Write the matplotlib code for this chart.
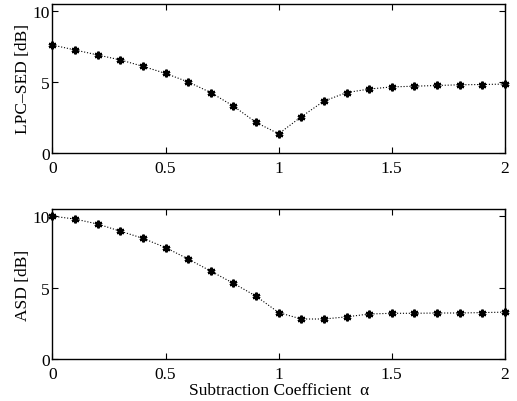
import matplotlib
matplotlib.use("Agg")
import matplotlib.pyplot as plt

# subtraction coefficient sweep
alpha = [0.0, 0.1, 0.2, 0.3, 0.4, 0.5, 0.6, 0.7, 0.8, 0.9, 1.0,
         1.1, 1.2, 1.3, 1.4, 1.5, 1.6, 1.7, 1.8, 1.9, 2.0]

lpc_sed = [7.6, 7.25, 6.9, 6.55, 6.1, 5.6, 5.0, 4.25, 3.3, 2.15, 1.35,
           2.55, 3.65, 4.25, 4.5, 4.65, 4.7, 4.75, 4.8, 4.82, 4.85]

asd = [10.0, 9.8, 9.45, 8.95, 8.45, 7.8, 7.0, 6.15, 5.3, 4.4, 3.25,
       2.8, 2.8, 2.95, 3.15, 3.2, 3.2, 3.22, 3.22, 3.25, 3.28]

xticks = [0, 0.5, 1, 1.5, 2]
xtick_labels = ["0", "0.5", "1", "1.5", "2"]
yticks = [0, 5, 10]

plt.rcParams["font.family"] = ["Liberation Serif", "DejaVu Serif"]
plt.rcParams["font.size"] = 12


def style_axes(ax, ylabel):
    ax.set_xlim(0, 2)
    ax.set_ylim(0, 10.5)
    ax.set_xticks(xticks)
    ax.set_xticklabels(xtick_labels)
    ax.set_yticks(yticks)
    ax.tick_params(direction="in", length=4, width=0.8, top=True, right=True,
                   labelsize=12.5, pad=2)
    ax.tick_params(axis="x", pad=5)
    for s in ax.spines.values():
        s.set_linewidth(1.0)
    ax.set_ylabel(ylabel, fontsize=12.5, labelpad=1)


fig = plt.figure(figsize=(5.17, 4.02), dpi=100)
ax1 = fig.add_axes([0.1015, 0.617, 0.875, 0.371])
ax2 = fig.add_axes([0.1015, 0.1045, 0.875, 0.373])

for ax, vals, lab in [(ax1, lpc_sed, "LPC\u2013SED [dB]"), (ax2, asd, "ASD [dB]")]:
    ax.plot(alpha, vals, color="k", linestyle=":", linewidth=0.8,
            marker=(6, 2, 0), markersize=5.5, markeredgewidth=1.7, clip_on=False)
    style_axes(ax, lab)

ax2.set_xlabel("Subtraction Coefficient  \u03b1", fontsize=12.5, labelpad=0)

fig.savefig("out.png", dpi=100)
